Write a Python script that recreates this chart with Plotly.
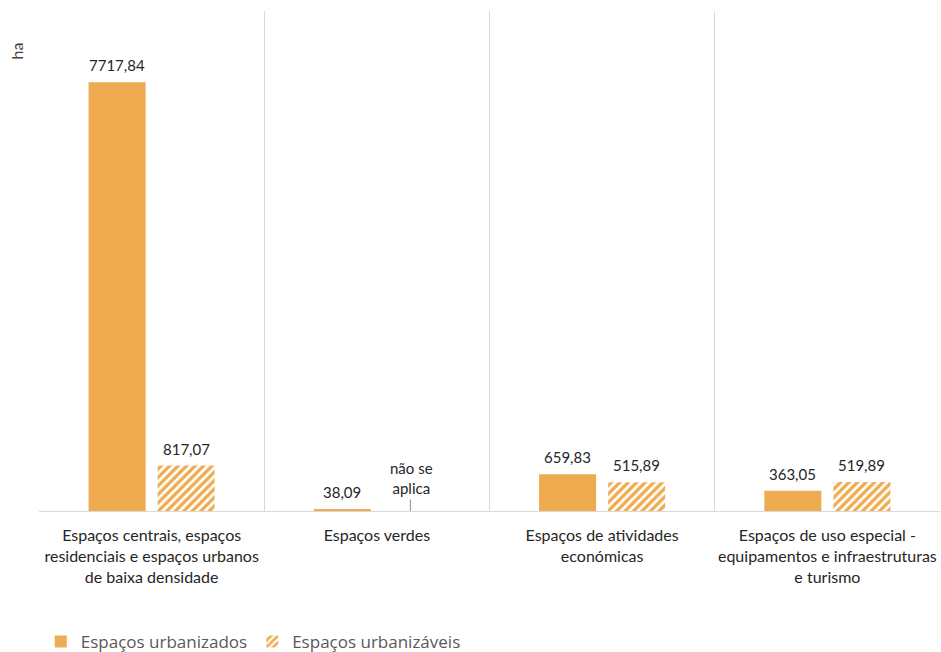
import plotly.graph_objects as go

categories = [
    "Espaços centrais, espaços<br>residenciais e espaços urbanos<br>de baixa densidade",
    "Espaços verdes",
    "Espaços de atividades<br>económicas",
    "Espaços de uso especial -<br>equipamentos e infraestruturas<br>e turismo",
]
cat_ids = ["c1", "c2", "c3", "c4"]
urbanizados = [7717.84, 38.09, 659.83, 363.05]
urbanizaveis = [817.07, 0, 515.89, 519.89]
urbanizados_text = ["7717,84", "38,09", "659,83", "363,05"]
urbanizaveis_text = ["817,07", "não se<br>aplica", "515,89", "519,89"]

ORANGE = "#EEAB50"
FONT = "Lato, sans-serif"
LABEL_COLOR = "#262626"
BAR_OFFSET = 34.5  # px, half distance between grouped bar centres

fig = go.Figure()
fig.add_trace(go.Bar(
    x=cat_ids, y=urbanizados, name="Espaços urbanizados",
    marker=dict(color=ORANGE, line=dict(width=0)),
))
fig.add_trace(go.Bar(
    x=cat_ids, y=urbanizaveis, name="Espaços urbanizáveis",
    marker=dict(color="white", line=dict(width=0),
                pattern=dict(shape="/", fgcolor=ORANGE, bgcolor="white",
                             size=6, solidity=0.55, fgopacity=1)),
))

# value labels
for cid, v, t in zip(cat_ids, urbanizados, urbanizados_text):
    fig.add_annotation(x=cid, y=v, text=t, showarrow=False, xshift=-BAR_OFFSET,
                       yanchor="bottom", yshift=6,
                       font=dict(size=15, color=LABEL_COLOR, family=FONT))
for cid, v, t in zip(cat_ids, urbanizaveis, urbanizaveis_text):
    extra = 12 if v == 0 else 6
    fig.add_annotation(x=cid, y=v, text=t, showarrow=False, xshift=BAR_OFFSET,
                       yanchor="bottom", yshift=extra,
                       font=dict(size=15, color=LABEL_COLOR, family=FONT))
    if v == 0:
        fig.add_annotation(x=cid, y=v, text="", showarrow=True, arrowhead=0,
                           arrowwidth=1, arrowcolor="#8c8c8c", ax=0, ay=-13,
                           xshift=BAR_OFFSET - 1)

fig.add_annotation(text="ha", xref="paper", yref="paper", x=-0.024, y=0.92,
                   xanchor="center", yanchor="middle", showarrow=False, textangle=-90,
                   font=dict(size=16, color="#404040", family=FONT))

fig.update_layout(
    width=941, height=652,
    margin=dict(l=39, r=1, t=11, b=141, autoexpand=False),
    paper_bgcolor="white", plot_bgcolor="white",
    barmode="group", bargap=0.387, bargroupgap=0.174,
    showlegend=True,
    legend=dict(orientation="h", x=0.002, xanchor="left", yref="paper", y=-0.262,
                yanchor="middle", font=dict(size=17, color="#595959", family="Open Sans"),
                itemwidth=30, traceorder="normal"),
    font=dict(family=FONT),
)
fig.update_xaxes(
    tickmode="array", tickvals=cat_ids, ticktext=categories, tickangle=0,
    automargin=False,
    tickson="boundaries", showgrid=True, gridcolor="#D9D9D9", gridwidth=1,
    showline=True, linecolor="#D9D9D9", linewidth=1, ticks="",
    tickfont=dict(size=16, color=LABEL_COLOR, family=FONT), ticklabelstandoff=10,
)
fig.update_yaxes(range=[0, 9000], showgrid=False, showticklabels=False,
                 zeroline=False, showline=False, ticks="", automargin=False)

fig.write_html("out.html")
